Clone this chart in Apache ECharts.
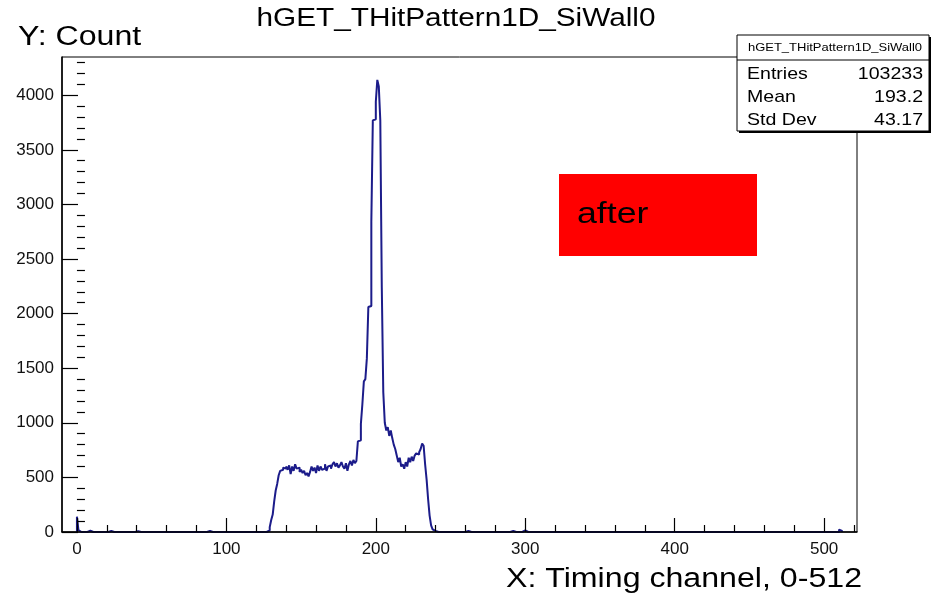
<!DOCTYPE html>
<html>
<head>
<meta charset="utf-8">
<script src="https://cdn.jsdelivr.net/npm/echarts@6/dist/echarts.min.js"></script>
<style>
  html, body { margin: 0; padding: 0; background: #ffffff; }
  #chart { width: 933px; height: 602px; }
</style>
</head>
<body>
<div id="chart"></div>
<script>
// Histogram: timing channel hit pattern for SiWall0 (512 one-channel bins)
const histName = 'hGET_THitPattern1D_SiWall0';
const nBins = 512;

// Counts of the populated region, starting at channel 128
const mainStart = 128;
const mainCounts = [
  15, 45, 110, 160, 280, 380, 440, 520, 560, 570,            // 128-137
  590, 580, 600, 570, 610, 530, 600, 560, 620, 580,          // 138-147
  590, 550, 570, 540, 560, 520, 540, 510, 550, 600,          // 148-157
  560, 590, 540, 610, 560, 600, 570, 580, 620, 560,          // 158-167
  600, 610, 580, 620, 640, 600, 630, 590, 610, 640,          // 168-177
  600, 580, 630, 560, 620, 650, 610, 660, 630, 650,          // 178-187
  830, 840, 990, 1170, 1380, 1400, 1590, 2060, 2070, 2840,   // 188-197
  3770, 3780, 3940, 4140, 4080, 3770, 2240, 1280, 1000, 930, // 198-207
  960, 880, 930, 860, 800, 760, 700, 640, 680, 600,          // 208-217
  620, 580, 640, 600, 680, 640, 690, 650, 700, 720,          // 218-227
  710, 730, 760, 810, 790, 620, 480, 300, 150, 60,           // 228-237
  25, 10, 0                                                  // 238-240
];

// Isolated low-count channels outside the main region: [channel, count]
const strayBins = [
  [0, 140], [1, 18], [8, 12], [22, 10], [40, 8], [53, 10], [88, 10],
  [246, 10], [261, 10], [291, 10], [299, 15], [360, 14], [378, 14],
  [416, 10], [422, 10], [424, 10], [510, 22], [511, 10]
];

// Axis ranges and tick positions
const xRange = [-10, 522];
const yRange = [0, 4350];
const xMajorTicks = [0, 100, 200, 300, 400, 500];
const xMinorTicks = [20, 40, 60, 80, 120, 140, 160, 180, 220, 240, 260, 280,
  320, 340, 360, 380, 420, 440, 460, 480, 520];
const yMajorTicks = [0, 500, 1000, 1500, 2000, 2500, 3000, 3500, 4000];
const yMinorTicks = [100, 200, 300, 400, 600, 700, 800, 900, 1100, 1200, 1300, 1400,
  1600, 1700, 1800, 1900, 2100, 2200, 2300, 2400, 2600, 2700, 2800, 2900,
  3100, 3200, 3300, 3400, 3600, 3700, 3800, 3900, 4100, 4200, 4300];

// Statistics box rows
const statsRows = [['Entries', '103233'], ['Mean', '193.2'], ['Std Dev', '43.17']];

// Build the full bin list and the outline as a step line over bin edges
const counts = new Array(nBins).fill(0);
mainCounts.forEach((c, i) => { counts[mainStart + i] = c; });
strayBins.forEach(([b, c]) => { counts[b] = c; });
const outline = [[0, 0]];
for (let i = 0; i < nBins; i++) outline.push([i, counts[i]]);
outline.push([nBins, 0]);

const FONT = '"Liberation Sans", Arial, Helvetica, sans-serif';
const SX = 1.19;

const chart = echarts.init(document.getElementById('chart'), null, { renderer: 'canvas' });

function textEl(text, x, y, size, align, z, scale) {
  return {
    type: 'text', x: x, y: y, z: z || 10, scaleX: scale || SX,
    style: {
      text: text, font: size + 'px ' + FONT, fill: '#000',
      textAlign: align, textVerticalAlign: 'middle'
    }
  };
}

const statsGraphics = [
  { type: 'rect', z: 20, shape: { x: 739, y: 37, width: 192, height: 96 }, style: { fill: '#000' } },
  { type: 'rect', z: 21, shape: { x: 737, y: 35, width: 192, height: 96 },
    style: { fill: '#fff', stroke: '#000', lineWidth: 1 } },
  { type: 'line', z: 22, shape: { x1: 737, y1: 60, x2: 929, y2: 60 }, style: { stroke: '#000', lineWidth: 1 } },
  textEl(histName, 835, 48, 11, 'center', 23, 1.18)
];
statsRows.forEach((row, i) => {
  const y = 74 + i * 23;
  statsGraphics.push(textEl(row[0], 747, y, 17, 'left', 23, 1.15));
  statsGraphics.push(textEl(row[1], 923, y, 17, 'right', 23, 1.15));
});

const plain = v => String(v);
const tickLabel = { fontFamily: FONT, fontSize: 17, color: '#111', formatter: plain };

chart.setOption({
  animation: false,
  backgroundColor: '#ffffff',
  grid: { left: 62, right: 76, top: 57, bottom: 70, show: true, borderColor: '#000', borderWidth: 1, backgroundColor: 'transparent' },
  xAxis: [
    {
      type: 'value', min: xRange[0], max: xRange[1], z: 5,
      axisLine: { show: true, onZero: false, lineStyle: { color: '#000', width: 1.5 } },
      axisTick: { show: true, inside: true, length: 14, customValues: xMajorTicks, lineStyle: { color: '#000', width: 1.2 } },
      axisLabel: Object.assign({ customValues: xMajorTicks, margin: 9 }, tickLabel),
      splitLine: { show: false }
    },
    {
      type: 'value', min: xRange[0], max: xRange[1], position: 'bottom', z: 5,
      axisLine: { show: false },
      axisTick: { show: true, inside: true, length: 7, customValues: xMinorTicks, lineStyle: { color: '#000', width: 1.2 } },
      axisLabel: { show: false },
      splitLine: { show: false }
    }
  ],
  yAxis: [
    {
      type: 'value', min: yRange[0], max: yRange[1], z: 5,
      axisLine: { show: true, onZero: false, lineStyle: { color: '#000', width: 1.5 } },
      axisTick: { show: true, inside: true, length: 16, customValues: yMajorTicks, lineStyle: { color: '#000', width: 1.2 } },
      axisLabel: Object.assign({ customValues: yMajorTicks, margin: 8 }, tickLabel),
      splitLine: { show: false }
    },
    {
      type: 'value', min: yRange[0], max: yRange[1], position: 'left', z: 5,
      axisLine: { show: false },
      axisTick: { show: true, inside: true, length: 8, customValues: yMinorTicks, lineStyle: { color: '#000', width: 1.2 } },
      axisLabel: { show: false },
      splitLine: { show: false }
    }
  ],
  series: [{
    type: 'line', xAxisIndex: 0, yAxisIndex: 0, step: 'end', showSymbol: false, symbol: 'none',
    data: outline, z: 2,
    lineStyle: { color: '#1c1c8a', width: 2 }
  }],
  graphic: [
    textEl(histName, 456, 19, 25, 'center', 10),
    textEl('Y: Count', 18, 38, 27, 'left', 10),
    textEl('X: Timing channel, 0-512', 862, 580, 27, 'right', 10),
    { type: 'rect', z: 15, shape: { x: 559, y: 174, width: 198, height: 82 }, style: { fill: '#ff0000' } },
    textEl('after', 577, 215, 30, 'left', 16)
  ].concat(statsGraphics)
});
</script>
</body>
</html>
